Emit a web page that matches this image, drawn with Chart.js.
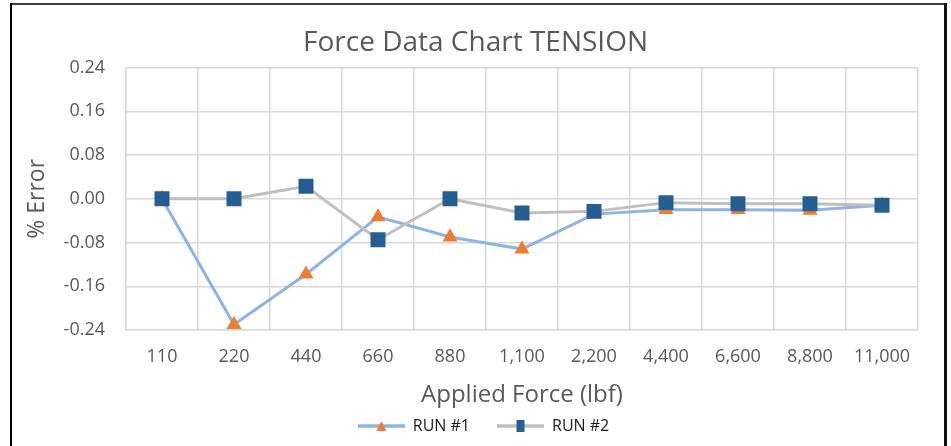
<!DOCTYPE html>
<html>
<head>
<meta charset="utf-8">
<script src="https://cdn.jsdelivr.net/npm/chart.js@4.4.0/dist/chart.umd.min.js"></script>
<style>
  html, body { margin: 0; padding: 0; background: #fff; }
  canvas { display: block; }
</style>
</head>
<body>
<canvas id="canvas" width="951" height="446"></canvas>
<script>
var forceLabels = ['110', '220', '440', '660', '880', '1,100', '2,200', '4,400', '6,600', '8,800', '11,000'];
var run1Values = [0, -0.23, -0.138, -0.033, -0.07, -0.092, -0.028, -0.02, -0.02, -0.021, -0.012];
var run2Values = [0, 0, 0.023, -0.075, 0, -0.026, -0.023, -0.007, -0.009, -0.009, -0.012];
var yTicks = [-0.24, -0.16, -0.08, 0, 0.08, 0.16, 0.24];

var blueLine = '#8fb4e3';
var greyLine = '#bfbfbf';
var orange = '#ed7d31';
var navy = '#255e91';
var textGrey = '#595959';
var gridGrey = '#d9d9d9';
var fontName = "'Open Sans', 'Noto Sans', sans-serif";

// legend symbols: short line with the marker in the middle
var legendSymbol = function(lineColor, marker) {
    var c = document.createElement('canvas');
    c.width = 47;
    c.height = 14;
    var ctx = c.getContext('2d');
    ctx.strokeStyle = lineColor;
    ctx.lineWidth = 3.5;
    ctx.beginPath();
    ctx.moveTo(0, 7);
    ctx.lineTo(47, 7);
    ctx.stroke();
    if (marker === 'triangle') {
        ctx.fillStyle = orange;
        ctx.beginPath();
        ctx.moveTo(23.5, 2);
        ctx.lineTo(28.5, 12);
        ctx.lineTo(18.5, 12);
        ctx.closePath();
        ctx.fill();
    } else {
        ctx.fillStyle = navy;
        ctx.fillRect(19.5, 1, 8, 12);
    }
    return c;
};
var symbols = [legendSymbol(blueLine, 'triangle'), legendSymbol(greyLine, 'rect')];

var framePlugin = {
    id: 'frame',
    afterLayout: function(chart) {
        // Excel centres the legend a little right of the canvas middle
        chart.legend.left += 8;
        chart.legend.right += 8;
    },
    beforeDraw: function(chart) {
        var ctx = chart.ctx;
        ctx.save();
        ctx.fillStyle = '#fff';
        ctx.fillRect(0, 0, chart.width, chart.height);
        ctx.restore();
    },
    afterDraw: function(chart) {
        var ctx = chart.ctx;
        ctx.save();
        ctx.strokeStyle = '#404040';
        ctx.lineWidth = 2;
        ctx.beginPath();
        ctx.moveTo(10, 4);
        ctx.lineTo(947, 4);
        ctx.stroke();
        ctx.strokeStyle = '#000';
        ctx.beginPath();
        ctx.moveTo(11, 3);
        ctx.lineTo(11, 446);
        ctx.stroke();
        ctx.strokeStyle = '#111';
        ctx.lineWidth = 3;
        ctx.beginPath();
        ctx.moveTo(945.5, 3);
        ctx.lineTo(945.5, 446);
        ctx.stroke();
        ctx.restore();
    }
};

var config = {
    type: 'line',
    data: {
        labels: forceLabels,
        datasets: [{
            label: 'RUN #1',
            data: run1Values,
            borderColor: blueLine,
            backgroundColor: orange,
            borderWidth: 3,
            pointStyle: 'triangle',
            pointRadius: 8.7,
            pointHoverRadius: 8.7,
            pointBackgroundColor: orange,
            pointBorderColor: orange,
            pointBorderWidth: 0,
            tension: 0,
            order: 2
        }, {
            label: 'RUN #2',
            data: run2Values,
            borderColor: greyLine,
            backgroundColor: navy,
            borderWidth: 3,
            pointStyle: 'rect',
            pointRadius: 10.6,
            pointHoverRadius: 10.6,
            pointBackgroundColor: navy,
            pointBorderColor: navy,
            pointBorderWidth: 0,
            tension: 0,
            order: 1
        }]
    },
    options: {
        responsive: false,
        animation: false,
        layout: {
            padding: { left: 12, right: 12, top: 0, bottom: 2 }
        },
        plugins: {
            tooltip: { enabled: false },
            title: {
                display: true,
                text: 'Force Data Chart TENSION',
                color: textGrey,
                font: { family: fontName, size: 28, weight: 'normal' },
                padding: { top: 26, bottom: 8 }
            },
            legend: {
                position: 'bottom',
                labels: {
                    usePointStyle: true,
                    pointStyleWidth: 47,
                    padding: 27,
                    color: '#1a1a1a',
                    font: { family: fontName, size: 16 },
                    sort: function(a, b) { return a.datasetIndex - b.datasetIndex; },
                    generateLabels: function(chart) {
                        var items = Chart.defaults.plugins.legend.labels.generateLabels(chart);
                        items.forEach(function(item) {
                            item.pointStyle = symbols[item.datasetIndex];
                        });
                        return items;
                    }
                }
            }
        },
        scales: {
            x: {
                type: 'category',
                offset: true,
                grid: { offset: true, color: gridGrey, lineWidth: 1.5, drawTicks: false },
                border: { color: gridGrey, width: 1.5 },
                ticks: {
                    color: textGrey,
                    padding: 16,
                    maxRotation: 0,
                    autoSkip: false,
                    font: { family: fontName, size: 18 }
                },
                title: {
                    display: true,
                    text: 'Applied Force (lbf)',
                    color: textGrey,
                    font: { family: fontName, size: 24 },
                    padding: { top: 0, bottom: -19 }
                },
                afterFit: function(scale) { scale.height = 61; }
            },
            y: {
                min: -0.24,
                max: 0.24,
                grid: { color: gridGrey, lineWidth: 1.5, drawTicks: false },
                border: { color: gridGrey, width: 1.5 },
                afterBuildTicks: function(scale) {
                    scale.ticks = yTicks.map(function(v) { return { value: v }; });
                },
                ticks: {
                    color: textGrey,
                    padding: 21,
                    font: { family: fontName, size: 18 },
                    callback: function(v) {
                        return Math.abs(v) < 1e-9 ? '0.00' : Number(v).toFixed(2);
                    }
                },
                title: {
                    display: true,
                    text: '% Error',
                    color: textGrey,
                    font: { family: fontName, size: 23 },
                    padding: { top: 12, bottom: 0 }
                },
                afterFit: function(scale) { scale.width = 114; }
            },
            yRight: {
                position: 'right',
                display: true,
                grid: { display: false },
                border: { display: false },
                ticks: { display: false },
                afterFit: function(scale) { scale.width = 21; }
            }
        }
    },
    plugins: [framePlugin]
};

window.onload = function() {
    window.myLine = new Chart(document.getElementById('canvas'), config);
};
</script>
</body>
</html>
